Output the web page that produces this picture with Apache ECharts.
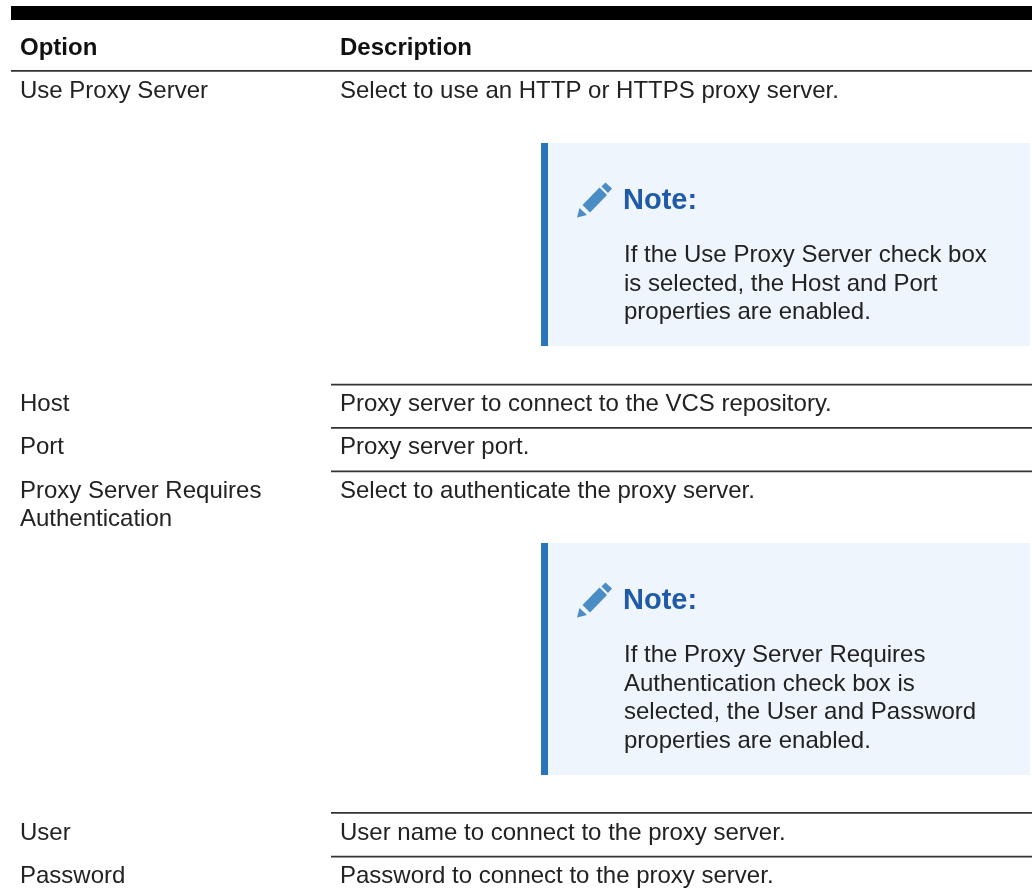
<!DOCTYPE html>
<html><head><meta charset="utf-8">
<style>html,body{margin:0;padding:0;background:#fff}#c{width:1032px;height:896px}</style>
<script src="https://cdn.jsdelivr.net/npm/echarts@6/dist/echarts.min.js"></script>
</head><body><div id="c"></div>
<script>
const headers = ['Option', 'Description'];
const optionRows = [
  ['Use Proxy Server', 91], ['Host', 404], ['Port', 447],
  ['Proxy Server Requires', 491], ['Authentication', 519], ['User', 833], ['Password', 876]
];
const descriptionRows = [
  ['Select to use an HTTP or HTTPS proxy server.', 91],
  ['Proxy server to connect to the VCS repository.', 404],
  ['Proxy server port.', 447],
  ['Select to authenticate the proxy server.', 491],
  ['User name to connect to the proxy server.', 833],
  ['Password to connect to the proxy server.', 876]
];
const notes = [
  {top: 143, bottom: 346, title: 'Note:', lines: ['If the Use Proxy Server check box', 'is selected, the Host and Port', 'properties are enabled.']},
  {top: 543, bottom: 775, title: 'Note:', lines: ['If the Proxy Server Requires', 'Authentication check box is', 'selected, the User and Password', 'properties are enabled.']}
];
const fullRules = [70];
const colRules = [383.8, 427, 470.5, 812, 855.8];
const FONT = '"Liberation Sans", Arial, sans-serif';
const FS = 24;
const pencil = [
  [[5.5, 23], [22.5, 5.5], [30, 13], [13, 30.5]],
  [[24.5, 4.5], [28.5, 0.5], [35, 6.5], [31, 11]],
  [[2.5, 26], [10, 33], [0, 35.5]]
];

const els = [];
const rect = (x, y, w, h, fill) => els.push({type: 'rect', shape: {x, y, width: w, height: h}, style: {fill}, silent: true});
const text = (s, x, y, o = {}) => els.push({type: 'text', x, y, silent: true, style: Object.assign({
  text: s, fill: '#222', font: `${FS}px ${FONT}`, textVerticalAlign: 'middle', textAlign: 'left'}, o)});

rect(11, 6, 1021, 14, '#000');
text(headers[0], 20, 48, {font: `bold ${FS}px ${FONT}`, fill: '#111'});
text(headers[1], 340, 48, {font: `bold ${FS}px ${FONT}`, fill: '#111'});
fullRules.forEach(y => rect(11, y, 1021, 1.8, '#333'));
colRules.forEach(y => rect(331, y, 701, 1.7, '#333'));
optionRows.forEach(r => text(r[0], 20, r[1]));
descriptionRows.forEach(r => text(r[0], 340, r[1]));

notes.forEach(n => {
  rect(541, n.top, 489, n.bottom - n.top, '#eef5fd');
  rect(541, n.top, 7, n.bottom - n.top, '#2a74bb');
  const ix = 577, iy = n.top + 39;
  pencil.forEach(poly => els.push({type: 'polygon', silent: true, x: ix, y: iy, shape: {points: poly}, style: {fill: '#4a8cc4'}}));
  text(n.title, 623, n.top + 58, {font: `bold 29px ${FONT}`, fill: '#1f5aa8'});
  n.lines.forEach((l, i) => text(l, 624, n.top + 112.5 + i * 28.5));
});

const chart = echarts.init(document.getElementById('c'), null, {renderer: 'canvas'});
chart.setOption({animation: false, backgroundColor: '#fff', graphic: {elements: els}});
</script></body></html>
